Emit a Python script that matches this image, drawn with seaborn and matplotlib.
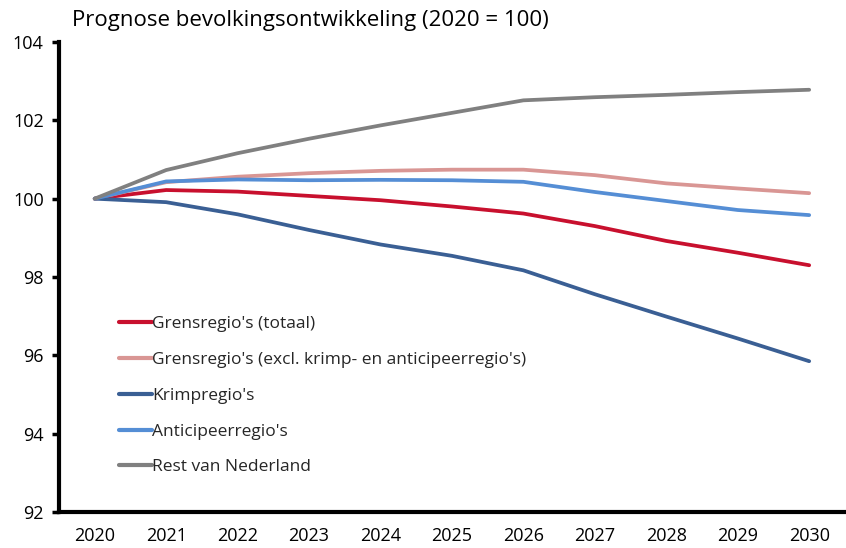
import pandas as pd
import numpy as np
import matplotlib
matplotlib.use("Agg")
import matplotlib.pyplot as plt
import seaborn as sns

# ==============================
# Data (2020 = 100)
# ==============================
years = ["2020", "2021", "2022", "2023", "2024", "2025", "2026", "2027", "2028", "2029", "2030"]

grens_totaal = [100.0, 100.22, 100.18, 100.07, 99.96, 99.80, 99.62, 99.30, 98.92, 98.62, 98.30]
grens_excl = [100.0, 100.42, 100.56, 100.65, 100.71, 100.74, 100.74, 100.60, 100.39, 100.26, 100.14]
krimp = [100.0, 99.91, 99.60, 99.20, 98.83, 98.54, 98.17, 97.56, 96.99, 96.43, 95.85]
anticipeer = [100.0, 100.44, 100.49, 100.47, 100.48, 100.47, 100.43, 100.17, 99.94, 99.71, 99.58]
rest_nl = [100.0, 100.73, 101.16, 101.53, 101.87, 102.19, 102.51, 102.59, 102.65, 102.72, 102.78]

series_names = [
    "Grensregio's (totaal)",
    "Grensregio's (excl. krimp- en anticipeerregio's)",
    "Krimpregio's",
    "Anticipeerregio's",
    "Rest van Nederland",
]
series_values = [grens_totaal, grens_excl, krimp, anticipeer, rest_nl]
colors = ["#C8102E", "#D99694", "#3A5F94", "#558ED5", "#808080"]

# long-form table for seaborn
df = pd.DataFrame({
    "jaar": np.tile(np.arange(len(years)), len(series_names)),
    "waarde": np.concatenate(series_values),
    "reeks": np.repeat(series_names, len(years)),
})

# ==============================
# Plot
# ==============================
sns.set_theme(style="white")
plt.rcParams["font.family"] = ["Open Sans", "DejaVu Sans"]

fig = plt.figure(figsize=(8.46, 5.48), dpi=100)
ax = fig.add_axes([0.0697, 0.0657, 0.929, 0.8577])

sns.lineplot(data=df, x="jaar", y="waarde", hue="reeks", hue_order=series_names,
             palette=colors, linewidth=2.7, ax=ax, legend=True)

# y axis
ax.set_ylim(92, 104)
ax.set_yticks(np.arange(92, 105, 2))
ax.set_yticklabels([str(v) for v in range(92, 105, 2)], fontsize=13, color="black")

# category x axis with ticks between the categories
ax.set_xlim(-0.5, len(years) - 0.5)
ax.set_xticks(np.arange(len(years)))
ax.set_xticklabels(years, fontsize=13, color="black")
ax.set_xticks(np.arange(-0.5, len(years)), minor=True)
ax.tick_params(axis="x", which="major", length=0, pad=11)
ax.tick_params(axis="x", which="minor", length=6, width=2.5, color="black", direction="out")
ax.tick_params(axis="y", which="major", length=5, width=2.5, color="black",
               direction="out", left=True, pad=6)

for side in ["top", "right"]:
    ax.spines[side].set_visible(False)
for side in ["left", "bottom"]:
    ax.spines[side].set_color("black")
    ax.spines[side].set_linewidth(3)

ax.set_xlabel("")
ax.set_ylabel("")
ax.grid(False)

leg = ax.legend(loc="upper left", bbox_to_anchor=(0.056, 0.45), frameon=False,
                fontsize=12.5, handlelength=1.9, handletextpad=0.05, labelspacing=1.13)
for line in leg.get_lines():
    line.set_linewidth(3)

fig.text(0.085, 0.963, "Prognose bevolkingsontwikkeling (2020 = 100)",
         fontsize=16, color="black", va="center", ha="left")

fig.savefig("out.png", dpi=100)
